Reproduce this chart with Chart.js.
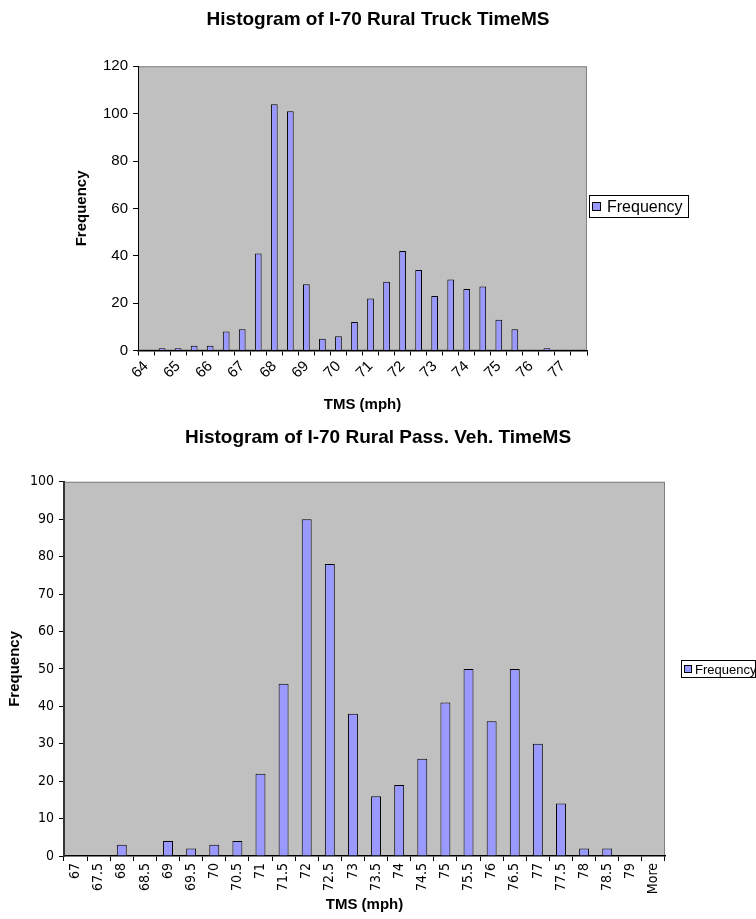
<!DOCTYPE html>
<html>
<head>
<meta charset="utf-8">
<script src="https://cdn.jsdelivr.net/npm/chart.js@4.4.0/dist/chart.umd.min.js"></script>
<style>
  html, body { margin: 0; padding: 0; background: #fff; }
  .wrap { position: absolute; left: 0; width: 756px; }
  #truckWrap { top: 0; height: 420px; }
  #passWrap { top: 420px; height: 499px; }
</style>
</head>
<body>
<div class="wrap" id="truckWrap"><canvas id="truckChart"></canvas></div>
<div class="wrap" id="passWrap"><canvas id="passChart"></canvas></div>
<script>
// bins (mph) and counts
const truckBins = ['64', '64.5', '65', '65.5', '66', '66.5', '67', '67.5', '68', '68.5', '69', '69.5', '70', '70.5',
    '71', '71.5', '72', '72.5', '73', '73.5', '74', '74.5', '75', '75.5', '76', '76.5', '77', 'More'];
const truckFreq = [0, 1, 1, 2, 2, 8, 9, 41, 104, 101, 28, 5, 6, 12, 22, 29, 42, 34, 23, 30, 26, 27, 13, 9, 0, 1, 0, 0];
const truckYMax = 120;
const truckYStep = 20;

const passBins = ['67', '67.5', '68', '68.5', '69', '69.5', '70', '70.5', '71', '71.5', '72', '72.5', '73', '73.5',
    '74', '74.5', '75', '75.5', '76', '76.5', '77', '77.5', '78', '78.5', '79', 'More'];
const passFreq = [0, 0, 3, 0, 4, 2, 3, 4, 22, 46, 90, 78, 38, 16, 19, 26, 41, 50, 36, 50, 30, 14, 2, 2, 0, 0];
const passYMax = 100;
const passYStep = 10;

const ARIAL = '"Liberation Sans", Arial, sans-serif';
const NARROW = '"Liberation Sans Narrow", "Arial Narrow", "DejaVu Sans Condensed", sans-serif';

Chart.defaults.color = '#000';

// gray plot area with a thin gray frame, like the old Excel charts
const plotFrame = {
    id: 'plotFrame',
    beforeDraw(chart) {
        const { ctx, chartArea: a } = chart;
        ctx.save();
        ctx.fillStyle = '#c0c0c0';
        ctx.fillRect(a.left, a.top, a.right - a.left, a.bottom - a.top);
        ctx.strokeStyle = '#808080';
        ctx.lineWidth = 1;
        ctx.strokeRect(a.left + 0.5, a.top + 0.5, a.right - a.left - 1, a.bottom - a.top - 1);
        ctx.restore();
    }
};

// boxed legend sitting right of the plot
const boxLegend = {
    id: 'boxLegend',
    afterDraw(chart, args, o) {
        const { ctx } = chart;
        const ds = chart.data.datasets[0];
        ctx.save();
        ctx.fillStyle = '#fff';
        ctx.fillRect(o.x, o.y, o.w, o.h);
        ctx.strokeStyle = '#000';
        ctx.lineWidth = 1;
        ctx.strokeRect(o.x + 0.5, o.y + 0.5, o.w - 1, o.h - 1);
        const s = o.box;
        const sy = Math.round(o.y + (o.h - s) / 2);
        ctx.fillStyle = ds.backgroundColor;
        ctx.fillRect(o.x + 3, sy, s, s);
        ctx.strokeRect(o.x + 3.5, sy + 0.5, s - 1, s - 1);
        ctx.fillStyle = '#000';
        ctx.font = o.font;
        ctx.textBaseline = 'middle';
        ctx.fillText(ds.label, o.x + 3 + s + o.gap, o.y + o.h / 2 + 1);
        ctx.restore();
    }
};

function histogram(canvasId, cfg) {
    return new Chart(document.getElementById(canvasId), {
        type: 'bar',
        data: {
            labels: cfg.bins,
            datasets: [{
                label: 'Frequency',
                data: cfg.freq,
                backgroundColor: '#9999ff',
                borderColor: '#000',
                borderWidth: 1,
                categoryPercentage: 1,
                barPercentage: cfg.barPct
            }]
        },
        options: {
            responsive: true,
            maintainAspectRatio: false,
            animation: false,
            layout: { padding: 0 },
            plugins: {
                legend: { display: false },
                tooltip: { enabled: false },
                title: {
                    display: true,
                    text: cfg.title,
                    color: '#000',
                    font: { family: ARIAL, size: 19, weight: 'bold' },
                    padding: cfg.titlePad
                },
                boxLegend: cfg.legend
            },
            scales: {
                x: {
                    afterFit: s => { s.height = cfg.xHeight; s.paddingRight = cfg.rightGap; },
                    grid: { drawOnChartArea: false, color: '#000', tickLength: 5 },
                    border: { color: '#000', width: 1.5 },
                    ticks: {
                        color: '#000',
                        font: { family: cfg.tickFont, size: cfg.tickSize },
                        autoSkip: false,
                        minRotation: cfg.rotation,
                        maxRotation: cfg.rotation,
                        padding: 2,
                        callback: cfg.xLabel
                    },
                    title: {
                        display: true,
                        text: 'TMS (mph)',
                        color: '#000',
                        font: { family: ARIAL, size: 15, weight: 'bold' },
                        padding: { top: 0, bottom: cfg.xTitlePad }
                    }
                },
                y: {
                    min: 0,
                    max: cfg.yMax,
                    afterFit: s => { s.width = cfg.yWidth; },
                    grid: { drawOnChartArea: false, color: '#000', tickLength: 5 },
                    border: { color: cfg.yAxisColor, width: cfg.yAxisWidth },
                    ticks: {
                        stepSize: cfg.yStep,
                        color: '#000',
                        padding: 5,
                        font: { family: cfg.tickFont, size: cfg.tickSize }
                    },
                    title: {
                        display: true,
                        text: 'Frequency',
                        color: '#000',
                        font: { family: ARIAL, size: 15, weight: 'bold' },
                        padding: { top: cfg.yTitlePad, bottom: 0 }
                    }
                }
            }
        },
        plugins: [plotFrame, boxLegend]
    });
}

histogram('truckChart', {
    bins: truckBins,
    freq: truckFreq,
    barPct: 0.42,
    title: 'Histogram of I-70 Rural Truck TimeMS',
    titlePad: { top: 8, bottom: 35.5 },
    legend: { x: 589, y: 195, w: 100, h: 23, box: 9, gap: 6, font: '16px ' + ARIAL },
    xHeight: 69.5,
    rightGap: 169,
    tickFont: ARIAL,
    tickSize: 15,
    rotation: 45,
    xLabel: (v, i) => (i % 2 ? '' : truckBins[i]),
    xTitlePad: 6,
    yMax: truckYMax,
    yStep: truckYStep,
    yWidth: 138,
    yAxisColor: '#000',
    yAxisWidth: 1,
    yTitlePad: 73
});

histogram('passChart', {
    bins: passBins,
    freq: passFreq,
    barPct: 0.43,
    title: 'Histogram of I-70 Rural Pass. Veh. TimeMS',
    titlePad: { top: 6, bottom: 33 },
    legend: { x: 681, y: 240, w: 75, h: 18, box: 8, gap: 3, font: '13px ' + ARIAL },
    xHeight: 63,
    rightGap: 91,
    tickFont: NARROW,
    tickSize: 14,
    rotation: 90,
    xLabel: (v, i) => passBins[i],
    xTitlePad: 5,
    yMax: passYMax,
    yStep: passYStep,
    yWidth: 64,
    yAxisColor: '#333',
    yAxisWidth: 2,
    yTitlePad: 6
});
</script>
</body>
</html>
